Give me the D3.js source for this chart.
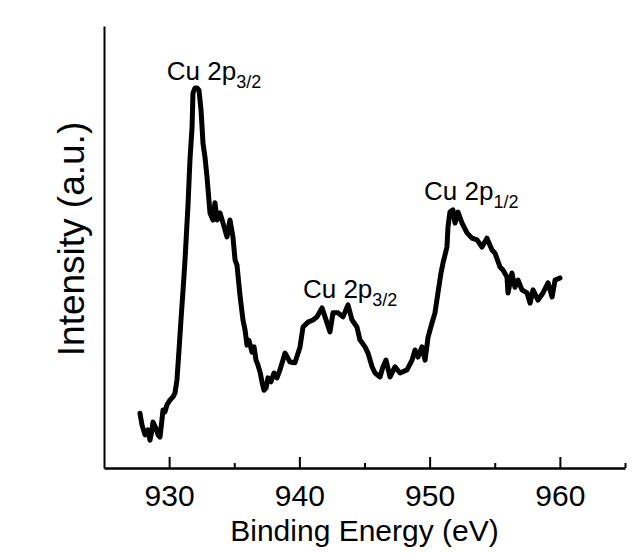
<!DOCTYPE html>
<html>
<head>
<meta charset="utf-8">
<script src="https://cdn.jsdelivr.net/npm/d3@7"></script>
<style>
  html, body { margin: 0; padding: 0; background: #ffffff; }
  svg { display: block; }
  text { font-family: "Liberation Sans", Arial, Helvetica, sans-serif; fill: #000; }
</style>
</head>
<body>
<svg id="chart" width="639" height="553"></svg>
<script>
// ---- data ----
const bindingEnergy = [
  927.76, 927.92, 928.15, 928.38, 928.53, 928.69, 928.76, 928.99, 929.15, 929.30,
  929.45, 929.53, 929.68, 929.84, 930.07, 930.30, 930.45, 930.60, 930.76, 930.91,
  931.07, 931.22, 931.45, 931.60, 931.76, 931.83, 931.99, 932.14, 932.29, 932.45,
  932.60, 932.75, 932.91, 933.14, 933.37, 933.52, 933.68, 933.91, 934.14, 934.44,
  934.67, 934.90, 935.06, 935.21, 935.44, 935.67, 935.83, 935.98, 936.13, 936.36,
  936.52, 936.67, 936.82, 936.98, 937.13, 937.28, 937.44, 937.59, 937.82, 938.05,
  938.28, 938.51, 938.90, 939.28, 939.66, 940.05, 940.28, 940.66, 941.05, 941.35,
  941.74, 941.97, 942.35, 942.58, 942.97, 943.35, 943.73, 944.04, 944.42, 944.65,
  945.04, 945.27, 945.58, 945.81, 946.19, 946.42, 946.65, 946.96, 947.34, 947.73,
  948.26, 948.65, 948.88, 949.11, 949.41, 949.65, 949.88, 950.18, 950.41, 950.64,
  950.87, 951.03, 951.33, 951.41, 951.56, 951.79, 951.95, 952.18, 952.49, 952.87,
  953.25, 953.64, 954.02, 954.40, 954.79, 955.02, 955.40, 955.63, 955.94, 956.02,
  956.32, 956.55, 956.79, 957.09, 957.48, 957.71, 957.94, 958.32, 958.70, 959.09,
  959.40, 959.63, 960.01
];
const intensity = [
  12.4, 9.7, 7.5, 8.6, 6.3, 8.6, 10.4, 9.0, 7.5, 7.0,
  10.9, 13.1, 12.7, 14.3, 15.4, 16.1, 17.0, 19.9, 26.7, 33.5,
  40.3, 47.1, 59.5, 69.7, 77.1, 84.8, 86.0, 86.0, 85.5, 81.0,
  73.5, 70.4, 65.8, 57.7, 56.1, 60.0, 56.1, 57.7, 55.4, 52.3,
  56.1, 52.3, 47.1, 45.9, 39.1, 33.5, 31.2, 27.8, 28.9, 26.2,
  27.4, 24.4, 23.3, 21.7, 19.5, 17.6, 18.1, 20.4, 19.5, 21.5,
  20.4, 22.2, 26.0, 24.0, 23.8, 27.4, 31.9, 33.0, 33.5, 34.2,
  36.2, 34.2, 30.8, 35.1, 35.1, 34.2, 36.9, 33.5, 31.9, 29.0,
  27.4, 26.0, 22.9, 21.5, 20.6, 22.9, 24.4, 20.6, 22.9, 21.5,
  22.2, 24.4, 26.7, 25.1, 27.4, 24.4, 29.6, 32.8, 35.1, 39.6,
  44.1, 46.4, 50.0, 54.5, 57.9, 58.4, 55.4, 57.9, 55.4, 53.2,
  52.0, 51.6, 50.0, 52.0, 49.3, 48.6, 45.5, 44.8, 43.2, 39.6,
  44.1, 40.9, 42.5, 40.3, 39.6, 37.3, 40.3, 38.0, 39.6, 41.9,
  38.7, 42.5, 43.0
];
const xMajorTicks = [930, 940, 950, 960];
const xMinorTicks = [935, 945, 955, 965];
const xDomain = [925, 965];
const yDomain = [0, 100];
const peakLabels = ["Cu 2p", "Cu 2p", "Cu 2p"];
const peakSubs = ["3/2", "3/2", "1/2"];
const peakEnergies = [933.45, 943.9, 953.2];
const peakLabelLevels = [87.8, 38.5, 60.6];
const xTitle = "Binding Energy (eV)";
const yTitle = "Intensity (a.u.)";

// ---- drawing ----
const svg = d3.select("#chart");
const x = d3.scaleLinear().domain(xDomain).range([104, 625]);
const y = d3.scaleLinear().domain(yDomain).range([468, 26]);

// bottom axis: major ticks (inward) with labels
const gx = svg.append("g").attr("transform", `translate(0,${y(0)})`);
gx.call(d3.axisBottom(x).tickValues(xMajorTicks).tickSizeInner(-11).tickSizeOuter(0).tickPadding(0).tickFormat(d3.format("d")));
gx.select(".domain").attr("stroke", "#000").attr("stroke-width", 2.5);
gx.selectAll(".tick line").attr("stroke", "#000").attr("stroke-width", 2);
gx.selectAll(".tick text")
  .attr("y", 38).attr("dy", null)
  .style("font-size", "30px")
  .style("font-family", '"Liberation Sans", Arial, sans-serif');
// minor ticks
const gxm = svg.append("g").attr("transform", `translate(0,${y(0)})`);
gxm.call(d3.axisBottom(x).tickValues(xMinorTicks).tickSizeInner(-5).tickSizeOuter(0).tickFormat(""));
gxm.select(".domain").remove();
gxm.selectAll(".tick line").attr("stroke", "#000").attr("stroke-width", 2);

// left axis: line only
const gy = svg.append("g").attr("transform", `translate(${x(xDomain[0])},0)`);
gy.call(d3.axisLeft(y).tickValues([]).tickSizeOuter(0));
gy.select(".domain").attr("stroke", "#000").attr("stroke-width", 2);

// curve
const pts = bindingEnergy.map((e, i) => [e, intensity[i]]);
svg.append("path")
  .datum(pts)
  .attr("fill", "none")
  .attr("stroke", "#000")
  .attr("stroke-width", 5)
  .attr("stroke-linejoin", "round")
  .attr("stroke-linecap", "round")
  .attr("d", d3.line().x(d => x(d[0])).y(d => y(d[1])));

// peak labels
peakLabels.forEach((t, i) => {
  const tx = svg.append("text")
    .attr("x", x(peakEnergies[i]))
    .attr("y", y(peakLabelLevels[i]))
    .attr("text-anchor", "middle")
    .style("font-size", "26px");
  tx.append("tspan").text(t);
  tx.append("tspan").text(peakSubs[i]).attr("dy", 8).style("font-size", "18px");
});

// axis titles
svg.append("text")
  .attr("x", (x(xDomain[0]) + x(xDomain[1])) / 2)
  .attr("y", 541)
  .attr("text-anchor", "middle")
  .style("font-size", "30px")
  .text(xTitle);

svg.append("text")
  .attr("transform", `translate(84,239) rotate(-90)`)
  .attr("text-anchor", "middle")
  .style("font-size", "37px")
  .text(yTitle);
</script>
</body>
</html>
